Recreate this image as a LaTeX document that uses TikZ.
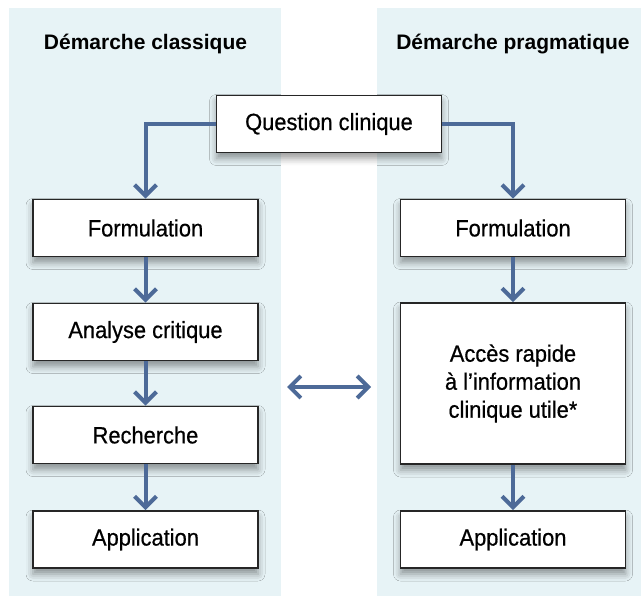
\documentclass[tikz,border=0pt]{standalone}
\usepackage{fontspec}
\setmainfont{Liberation Sans}
\newfontfamily\etroite{Liberation Sans}[FakeStretch=0.93,FakeBold=0.6]
\usetikzlibrary{arrows.meta,positioning,shadows.blur}
\definecolor{panelbleu}{HTML}{E7F3F6}
\definecolor{flechebleu}{HTML}{4D6A98}
\tikzset{
  boite/.style={draw=black!85, line width=1.8pt, fill=white, minimum width=225pt, minimum height=57pt,
    font=\etroite\fontsize{23.5}{28}\selectfont, align=center,
    blur shadow={shadow xshift=0pt, shadow yshift=-6pt, shadow blur radius=7pt, shadow opacity=40}},
  fleche/.style={draw=flechebleu, line width=4pt, -{Straight Barb[length=11pt,width=22pt]}},
  titre/.style={font=\fontsize{21}{25}\selectfont\bfseries}
}

\begin{document}
\begin{tikzpicture}[x=1pt,y=-1pt]
        \useasboundingbox (0,0) rectangle (641,596);
        \fill[panelbleu] (9,8) rectangle (281,596);
        \fill[panelbleu] (377,8) rectangle (641,596);

        \node[titre] (titreG) at (145.5,44) {Démarche classique};
        \node[titre] (titreD) at (513,44) {Démarche pragmatique};

        \node[boite] (question) at (329,124) {Question clinique};

        % demarche classique
        \node[boite] (formG) at (145.5,228) {Formulation};
        \node[boite] (analyse) at (145.5,332) {Analyse critique};
        \node[boite] (recherche) at (145.5,435) {Recherche};
        \node[boite] (applG) at (145.5,539.5) {Application};

        % demarche pragmatique
        \node[boite] (formD) at (513,228) {Formulation};
        \node[boite, minimum height=161pt] (acces) at (513,383.5) {Accès rapide\\à l’information\\clinique utile*};
        \node[boite] (applD) at (513,539.5) {Application};

        \draw[fleche] (question.west) -| (formG.north);
        \draw[fleche] (question.east) -| (formD.north);
        \draw[fleche] (formG) -- (analyse);
        \draw[fleche] (analyse) -- (recherche);
        \draw[fleche] (recherche) -- (applG);
        \draw[fleche] (formD) -- (acces);
        \draw[fleche] (acces) -- (applD);

        \coordinate (lienG) at (287,387);
        \coordinate (lienD) at (371,387);
        \draw[fleche, {Straight Barb[length=11pt,width=22pt]}-{Straight Barb[length=11pt,width=22pt]}] (lienG) -- (lienD);
\end{tikzpicture}
\end{document}
